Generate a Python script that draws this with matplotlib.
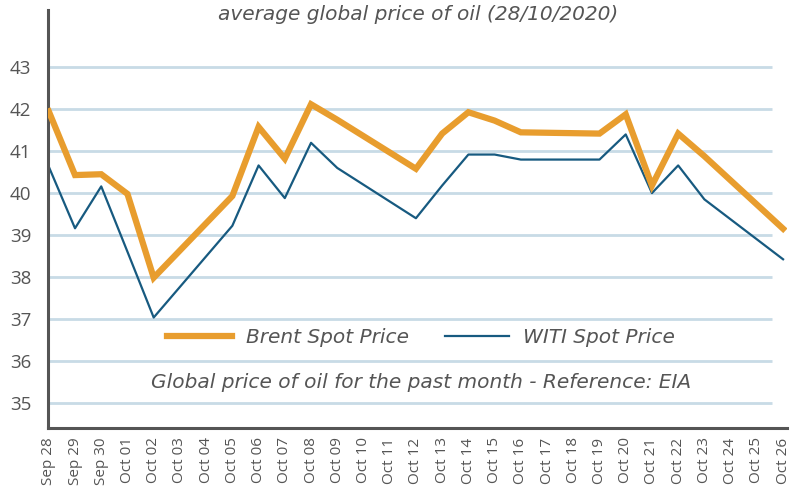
import matplotlib
matplotlib.use("Agg")
import matplotlib.pyplot as plt

# daily labels on the x axis (calendar days, Sep 28 - Oct 26 2020)
day_labels = ["Sep 28", "Sep 29", "Sep 30", "Oct 01", "Oct 02", "Oct 03", "Oct 04",
              "Oct 05", "Oct 06", "Oct 07", "Oct 08", "Oct 09", "Oct 10", "Oct 11",
              "Oct 12", "Oct 13", "Oct 14", "Oct 15", "Oct 16", "Oct 17", "Oct 18",
              "Oct 19", "Oct 20", "Oct 21", "Oct 22", "Oct 23", "Oct 24", "Oct 25",
              "Oct 26"]

# trading days only (weekends are bridged by the line)
trade_days = ["Sep 28", "Sep 29", "Sep 30", "Oct 01", "Oct 02", "Oct 05", "Oct 06",
              "Oct 07", "Oct 08", "Oct 09", "Oct 12", "Oct 13", "Oct 14", "Oct 15",
              "Oct 16", "Oct 19", "Oct 20", "Oct 21", "Oct 22", "Oct 23", "Oct 26"]

brent = [41.95, 40.43, 40.45, 39.98, 37.98, 39.93, 41.58, 40.82, 42.12, 41.75,
         40.58, 41.42, 41.93, 41.73, 41.45, 41.42, 41.88, 40.18, 41.42, 40.88,
         39.15]
wti = [40.63, 39.16, 40.16, 38.6, 37.03, 39.22, 40.66, 39.88, 41.2, 40.6,
       39.4, 40.18, 40.92, 40.92, 40.8, 40.8, 41.4, 40.0, 40.66, 39.85,
       38.42]

y_ticks = [35, 36, 37, 38, 39, 40, 41, 42, 43]

orange = "#e89d2e"
blue = "#175a80"
grey = "#555555"
txt_font = ["Liberation Sans Narrow", "DejaVu Sans"]

x_trade = [day_labels.index(d) for d in trade_days]

fig = plt.figure(figsize=(8.05, 4.93), dpi=100)
ax = fig.add_axes([48 / 805, 1 - 427.7 / 493, 739 / 805, 417.7 / 493])

ax.hlines(y_ticks, 0, 27.56, color="#c8dbe6", linewidth=2, zorder=1)

ax.plot(x_trade, brent, color=orange, linewidth=4.5, label="Brent Spot Price",
        zorder=3, solid_joinstyle="miter")
ax.plot(x_trade, wti, color=blue, linewidth=1.6, label="WITI Spot Price", zorder=2)

ax.set_xlim(-0.03, 28.15)
ax.set_ylim(34.4, 44.37)

ax.set_yticks(y_ticks)
ax.set_yticklabels([str(v) for v in y_ticks], color=grey, fontsize=13.5,
                   family=["Open Sans", "DejaVu Sans"])
ax.set_xticks(range(len(day_labels)))
ax.set_xticklabels(day_labels, rotation=90, color=grey, fontsize=11,
                   family=["Open Sans", "DejaVu Sans"])
ax.tick_params(axis="both", length=0)
ax.tick_params(axis="y", pad=12)
ax.tick_params(axis="x", pad=7)

for s in ["top", "right"]:
    ax.spines[s].set_visible(False)
for s in ["left", "bottom"]:
    ax.spines[s].set_color(grey)
    ax.spines[s].set_linewidth(2.2)

leg = ax.legend(loc="center", bbox_to_anchor=(0.505, 0.215), ncol=2, frameon=False,
                handlelength=3.2, columnspacing=1.8, handletextpad=0.7,
                prop={"family": txt_font, "style": "italic", "size": 14.5})
for t in leg.get_texts():
    t.set_color(grey)

ax.text(0.505, 0.109, "Global price of oil for the past month - Reference: EIA",
        transform=ax.transAxes, ha="center", va="center", color=grey,
        fontsize=14.5, style="italic", family=txt_font)

fig.text(0.519, 1 - 15 / 493, "average global price of oil (28/10/2020)",
         ha="center", va="center", color=grey, fontsize=14.5, style="italic",
         family=txt_font)

fig.savefig("out.png", dpi=100)
